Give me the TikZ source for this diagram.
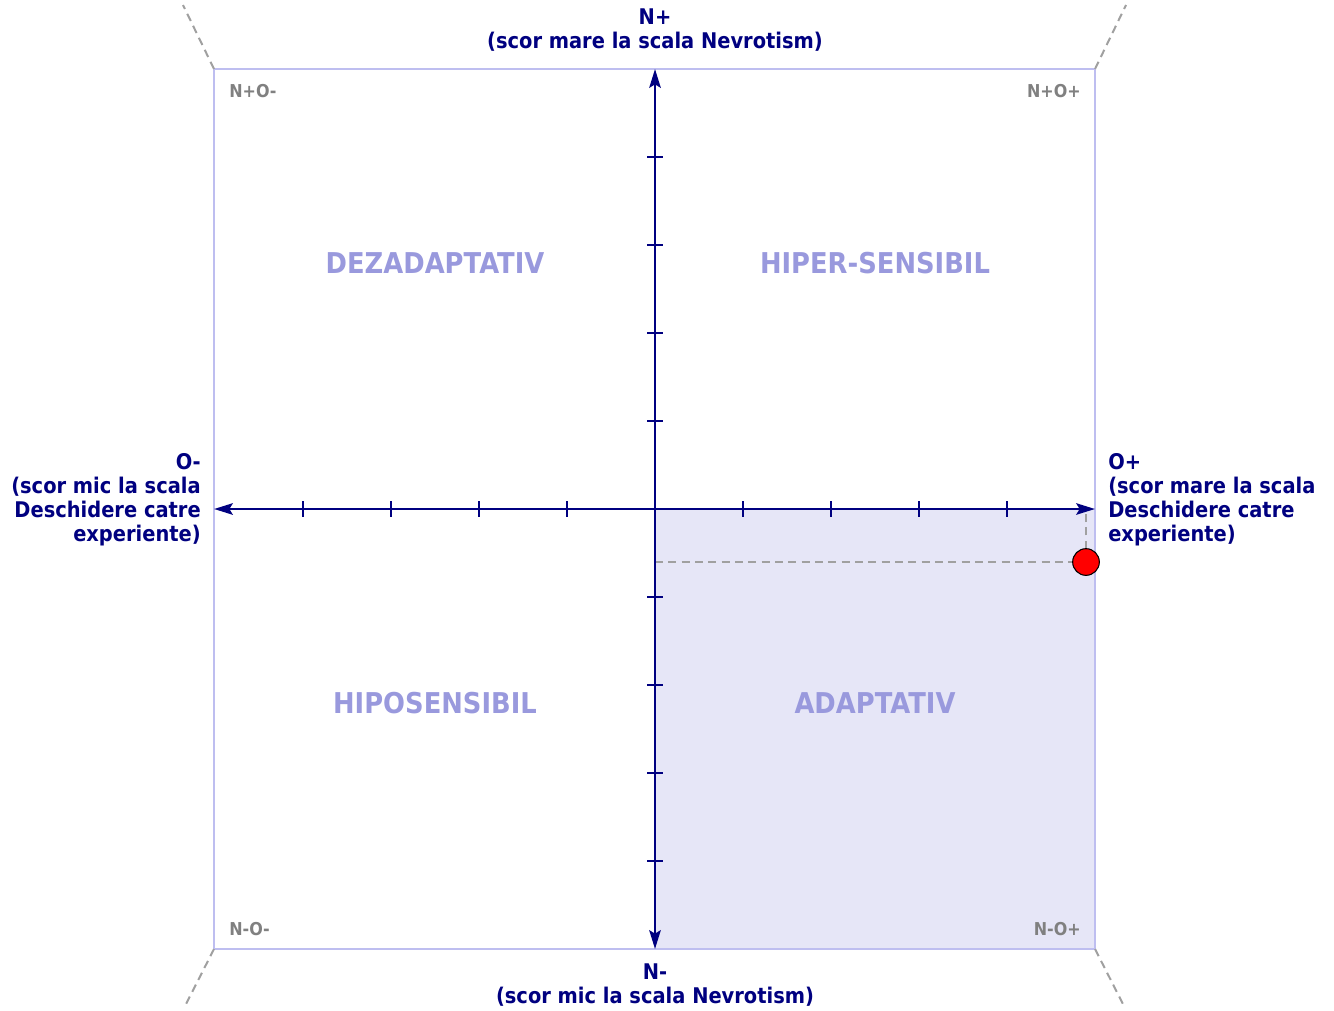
\documentclass[tikz,border=0pt]{standalone}
\usepackage{fontspec}
\setmainfont{DejaVu Sans}[FakeStretch=0.9]
\usetikzlibrary{arrows.meta}

\definecolor{axisnavy}{RGB}{0,0,128}
\definecolor{framelav}{RGB}{190,190,240}
\definecolor{shadelav}{RGB}{230,230,247}
\definecolor{quadlav}{RGB}{153,153,221}
\definecolor{cornergray}{RGB}{128,128,128}
\definecolor{guidegray}{RGB}{160,160,160}

\tikzset{
  axislbl/.style={font=\bfseries\fontsize{16.2}{18}\selectfont, text=axisnavy, inner sep=0pt},
  quadlbl/.style={font=\bfseries\fontsize{21.5}{24}\selectfont, text=quadlav, inner sep=0pt},
  cornerlbl/.style={font=\bfseries\fontsize{13.3}{15}\selectfont, text=cornergray, inner sep=0pt},
  guide/.style={draw=guidegray, line width=1.5pt, dash pattern=on 6pt off 4pt},
  axisline/.style={draw=axisnavy, line width=2.1pt},
  axistip/.style={{Stealth[length=14pt,width=8.5pt,inset=2.5pt]}-{Stealth[length=14pt,width=8.5pt,inset=2.5pt]}},
}

\begin{document}
\begin{tikzpicture}[x=0.75pt,y=0.75pt,yscale=-1,xscale=1]
    \useasboundingbox (0,0) rectangle (1334,1010);

    % corners of the frame and the axis ends
    \coordinate (tl) at (214,69);
    \coordinate (tr) at (1095,69);
    \coordinate (bl) at (214,949);
    \coordinate (br) at (1095,949);
    \coordinate (origin) at (655,509);
    \coordinate (xmin) at (214,509);
    \coordinate (xmax) at (1095,509);
    \coordinate (ymin) at (655,949);
    \coordinate (ymax) at (655,69);

    %Shape: Rectangle (N-O+ quadrant)
    \fill [shadelav] (origin) rectangle (br);
    %Shape: Frame
    \draw [framelav, line width=2pt] (tl) rectangle (br);

    %Straight Lines (corner guides)
    \draw [guide] (tl) -- (183,5);
    \draw [guide] (tr) -- (1126,5);
    \draw [guide] (bl) -- (184,1008);
    \draw [guide] (br) -- (1125,1008);

    % Text Node
    \node (qdez) [quadlbl] at (435,263) {DEZADAPTATIV};
    \node (qhiper) [quadlbl] at (875,263) {HIPER-SENSIBIL};
    \node (qhipo) [quadlbl] at (435,703) {HIPOSENSIBIL};
    \node (qadapt) [quadlbl] at (875,703) {ADAPTATIV};

    % Text Node
    \node (cnpom) [cornerlbl, anchor=west] at (229,91) {N+O-};
    \node (cnpop) [cornerlbl, anchor=east] at (1081,91) {N+O+};
    \node (cnmom) [cornerlbl, anchor=west] at (229,929) {N-O-};
    \node (cnmop) [cornerlbl, anchor=east] at (1081,929) {N-O+};

    %Straight Lines (score guides)
    \coordinate (score) at (1086,562);
    \draw [guide] (655,562) -- (score);
    \draw [guide] (score) -- (1086,509);

    %Straight Lines (axes)
    \draw [axisline, axistip] (xmin) -- (xmax);
    \draw [axisline, axistip] (ymin) -- (ymax);
    \foreach \i in {-4,...,-1,1,2,3,4} {
      \draw [axisline] (655+88*\i,501) -- (655+88*\i,517);
      \draw [axisline] (647,509+88*\i) -- (663,509+88*\i);
    }

    %Shape: Circle (score point)
    \node (dot) [circle, fill=red, draw=black, line width=0.8pt, minimum size=20pt, inner sep=0pt] at (score) {};

    % Text Node
    \node (ntop) [axislbl, align=center] at (655,30) {N+\\(scor mare la scala Nevrotism)};
    \node (nbot) [axislbl, align=center] at (655,985) {N-\\(scor mic la scala Nevrotism)};
    \node (oleft) [axislbl, align=right, anchor=east] at (201,500) {O-\\(scor mic la scala\\Deschidere catre\\experiente)};
    \node (oright) [axislbl, align=left, anchor=west] at (1108,500) {O+\\(scor mare la scala\\Deschidere catre\\experiente)};
\end{tikzpicture}
\end{document}
